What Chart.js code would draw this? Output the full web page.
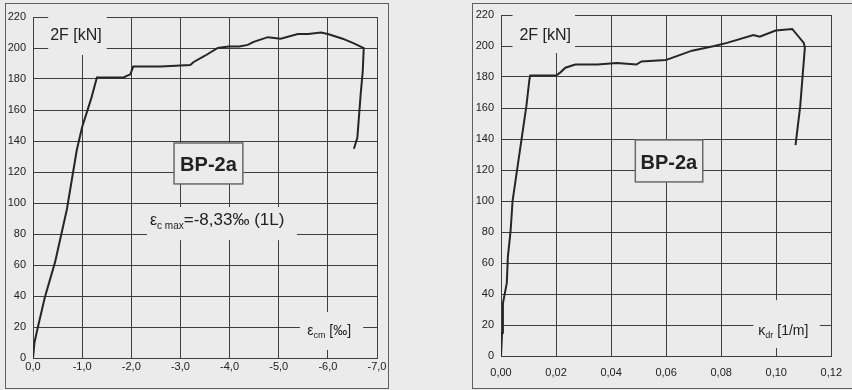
<!DOCTYPE html>
<html>
<head>
<meta charset="utf-8">
<script src="https://cdn.jsdelivr.net/npm/chart.js@4.4.1/dist/chart.umd.min.js"></script>
<style>
  html, body { margin: 0; padding: 0; background: #ebebeb; }
  #page { position: relative; width: 852px; height: 390px; overflow: hidden; background: #ebebeb; }
  .holder { position: absolute; top: 0; overflow: hidden; height: 390px; }
  .frame { position: absolute; border: 1px solid #5e5e5e; pointer-events: none; }
</style>
</head>
<body>
<div id="page">
  <div class="holder" style="left:0;width:388px;"><canvas id="chartLeft" width="400" height="390"></canvas></div>
  <div class="holder" style="left:430px;width:422px;"><canvas id="chartRight" width="422" height="390"></canvas></div>
  <div class="frame" style="left:5px;top:3px;width:382px;height:384px;"></div>
  <div class="frame" style="left:472px;top:3px;width:400px;height:384px;border-right:none;"></div>
</div>
<script>
// --- DATA ---
// left: 2F vs mean concrete strain eps_cm [‰]
const strainX = [0, -0.03, -0.10, -0.24, -0.45, -0.69, -0.89, -1.00, -1.09, -1.19, -1.30, -1.60, -1.84, -1.98, -2.04,
                 -2.60, -3.20, -3.27, -3.50, -3.76, -3.98, -4.20, -4.37, -4.49, -4.78, -5.04, -5.39, -5.60, -5.86,
                 -6.00, -6.30, -6.53, -6.73, -6.71, -6.67, -6.60, -6.53];
const strainY = [0, 10, 20, 39, 62, 96, 134, 149, 158, 168, 181, 181, 181, 183, 188,
                 188, 189, 191, 195, 200, 201, 201, 202, 204, 207, 206, 209, 209, 210,
                 209, 206, 203, 200, 185, 171, 142, 135];

// right: 2F vs curvature kappa_dr [1/m]
const curvX = [0, 0.0004, 0.0007, 0.0021, 0.0025, 0.0035, 0.0042, 0.0060, 0.0078, 0.0092, 0.0103, 0.0106, 0.0150,
               0.0200, 0.0216, 0.0234, 0.0270, 0.0350, 0.0421, 0.0492, 0.0510, 0.0598, 0.0616, 0.0694, 0.0775,
               0.0821, 0.0917, 0.0940, 0.0998, 0.1058, 0.1100, 0.1104, 0.1087, 0.1070];
const curvY = [0, 15, 34, 47, 64, 81, 100, 122, 144, 161, 178, 181, 181,
               181, 183, 186, 188, 188, 189, 188, 190, 191, 192, 197, 200,
               202, 207, 206, 210, 211, 202, 199, 161, 136];

const forceTicks = { min: 0, max: 220, step: 20 };
const strainTicks = { min: -7, max: 0, step: 1 };
const curvTicks = { min: 0, max: 0.12, step: 0.02 };

document.addEventListener('DOMContentLoaded', () => {

    const INK = '#222222';
    const GRID = '#3e3e3e';
    const BG = '#ebebeb';
    Chart.defaults.font.family = "'Liberation Sans', Arial, sans-serif";
    Chart.defaults.color = INK;

    const comma = (v, d) => v.toFixed(d).replace('.', ',');

    // --- text boxes drawn over the grid (data coords) ---
    function drawParts(ctx, parts, x, y, align) {
        let total = 0;
        parts.forEach(p => {
            ctx.font = (p.bold ? 'bold ' : '') + p.size + "px 'Liberation Sans', Arial, sans-serif";
            p.w = ctx.measureText(p.t).width;
            total += p.w;
        });
        let cx = align === 'center' ? x - total / 2 : x;
        parts.forEach(p => {
            ctx.font = (p.bold ? 'bold ' : '') + p.size + "px 'Liberation Sans', Arial, sans-serif";
            ctx.fillText(p.t, cx, y + (p.dy || 0));
            cx += p.w;
        });
    }

    const notesPlugin = {
        id: 'notes',
        beforeDatasetsDraw(chart, args, opts) {
            const { ctx, scales: { x, y } } = chart;
            ctx.save();
            ctx.textBaseline = 'alphabetic';
            (opts.items || []).forEach(it => {
                if (it.box) {
                    const x1 = x.getPixelForValue(it.box[0]), y1 = y.getPixelForValue(it.box[1]);
                    const x2 = x.getPixelForValue(it.box[2]), y2 = y.getPixelForValue(it.box[3]);
                    ctx.fillStyle = BG;
                    ctx.fillRect(Math.min(x1, x2), Math.min(y1, y2), Math.abs(x2 - x1), Math.abs(y2 - y1));
                    if (it.border) {
                        ctx.strokeStyle = '#6a6a6a';
                        ctx.lineWidth = 1.5;
                        ctx.strokeRect(Math.min(x1, x2), Math.min(y1, y2), Math.abs(x2 - x1), Math.abs(y2 - y1));
                    }
                }
                ctx.fillStyle = INK;
                drawParts(ctx, it.parts, x.getPixelForValue(it.at[0]), y.getPixelForValue(it.at[1]), it.align);
            });
            ctx.restore();
        }
    };

    function makeChart(id, xs, ys, xTicks, xFmt, reverse, pad, xPad, items) {
        const pts = xs.map((v, i) => ({ x: v, y: ys[i] }));
        return new Chart(document.getElementById(id), {
            type: 'scatter',
            data: {
                datasets: [{
                    data: pts,
                    showLine: true,
                    borderColor: '#262626',
                    borderWidth: 2,
                    pointRadius: 0,
                    tension: 0
                }]
            },
            options: {
                responsive: false,
                animation: false,
                layout: { padding: pad },
                plugins: {
                    legend: { display: false },
                    tooltip: { enabled: false },
                    notes: { items: items }
                },
                scales: {
                    x: {
                        type: 'linear',
                        reverse: reverse,
                        min: xTicks.min, max: xTicks.max,
                        afterFit: s => { s.height = 30; },
                        grid: { color: GRID, lineWidth: 1, drawTicks: false },
                        border: { color: GRID, width: 1 },
                        ticks: {
                            stepSize: xTicks.step,
                            padding: xPad,
                            maxRotation: 0,
                            autoSkip: false,
                            color: INK,
                            font: { size: 11 },
                            callback: v => xFmt(v)
                        }
                    },
                    y: {
                        min: forceTicks.min, max: forceTicks.max,
                        afterFit: s => { s.width = 30; },
                        grid: { color: GRID, lineWidth: 1, drawTicks: false },
                        border: { color: GRID, width: 1 },
                        ticks: { stepSize: forceTicks.step, padding: 7, color: INK, font: { size: 11 } }
                    }
                }
            },
            plugins: [notesPlugin]
        });
    }

    // --- LEFT: strain ---
    makeChart('chartLeft', strainX, strainY, strainTicks, v => comma(v, 1), true,
        { left: 3, right: 23, top: 17, bottom: 2 }, 2, [
            { box: [-0.31, 220, -1.5, 195.5], at: [-0.35, 205], parts: [{ t: '2F [kN]', size: 16 }] },
            { box: [-2.87, 138.7, -4.27, 112.3], border: true, at: [-3.57, 120.5], align: 'center',
              parts: [{ t: 'BP-2a', size: 20, bold: true }] },
            { box: [-2.32, 97.4, -5.37, 76], at: [-2.38, 85.8],
              parts: [{ t: 'ε', size: 16 }, { t: 'c max', size: 10, dy: 4 }, { t: '=-8,33‰ (1L)', size: 17 }] },
            { box: [-5.43, 29.7, -6.72, 5.2], at: [-5.58, 14.8],
              parts: [{ t: 'ε', size: 14 }, { t: 'cm', size: 9, dy: 3 }, { t: ' [‰]', size: 14 }] }
        ]);

    // --- RIGHT: curvature ---
    makeChart('chartRight', curvX, curvY, curvTicks, v => comma(v, 2), false,
        { left: 41, right: 12, top: 15, bottom: 4 }, 10, [
            { box: [0.0042, 220, 0.0269, 195.5], at: [0.0067, 204], parts: [{ t: '2F [kN]', size: 16 }] },
            { box: [0.0488, 139.4, 0.0733, 112.3], border: true, at: [0.061, 120.5], align: 'center',
              parts: [{ t: 'BP-2a', size: 20, bold: true }] },
            { box: [0.0917, 36, 0.1158, 5.2], at: [0.0935, 13.5],
              parts: [{ t: 'κ', size: 14 }, { t: 'dr', size: 9, dy: 3 }, { t: ' [1/m]', size: 14 }] }
        ]);
});
</script>
</body>
</html>
